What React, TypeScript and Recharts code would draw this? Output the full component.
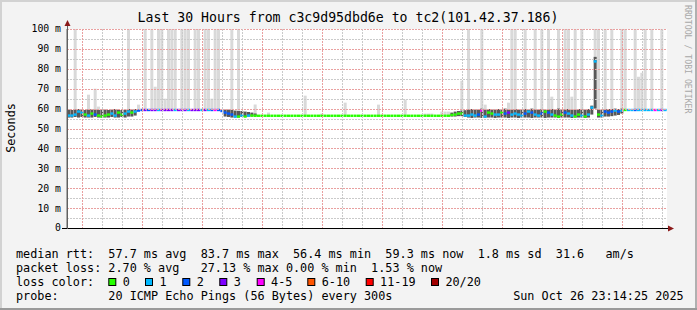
import React from 'react';
import { ComposedChart, Bar, Cell, XAxis, YAxis } from 'recharts';

const MONO = '"DejaVu Sans Mono", monospace';

// 10-minute bins from Sat 17:14:25 to Sun 23:14:25 (180 bins)
const median = [
  56.5, 56.5, 57, 58.5, 58, 57, 56.5, 57.5, 57, 56.5,
  56, 56.5, 57, 57.5, 56.5, 58, 57, 57.5, 58.5, 58,
  58.5, 59, 59.3, 59.3, 59.3, 59.3, 59.3, 59.3, 59.3, 59.3,
  59.3, 59.3, 59.3, 59.3, 59.3, 59.3, 59.3, 59.3, 59.3, 59.3,
  59.3, 59.3, 59.3, 59.3, 59.3, 59.3, 58.8, 58, 57.5, 57,
  56, 56, 56.5, 56, 56.5, 56.5, 56.4, 56.4, 56.4, 56.4,
  56.4, 56.4, 56.4, 56.4, 56.4, 56.4, 56.4, 56.4, 56.4, 56.4,
  56.4, 56.4, 56.4, 56.4, 56.4, 56.4, 56.4, 56.4, 56.4, 56.4,
  56.4, 56.4, 56.4, 56.4, 56.4, 56.4, 56.4, 56.4, 56.4, 56.4,
  56.4, 56.4, 56.4, 56.4, 56.4, 56.4, 56.4, 56.4, 56.4, 56.4,
  56.4, 56.4, 56.4, 56.4, 56.4, 56.4, 56.4, 56.4, 56.4, 56.4,
  56.4, 56.4, 56.4, 56.4, 56.4, 56.8, 57, 57.5, 57.5, 56.5,
  56.5, 57, 56.5, 57, 59, 56, 58, 57.5, 57, 57,
  58, 57.5, 58, 57, 57.5, 57, 56.5, 57.5, 58.5, 58,
  57, 56.5, 57.5, 58.5, 58, 57, 56.5, 56, 57, 58,
  57.5, 56.5, 56, 57, 56.5, 56, 57, 60.5, 83.7, 57,
  56.5, 58.5, 58, 58.5, 59, 58.5, 59, 59.3, 59.3, 59.3,
  59.3, 59.3, 59.3, 59.3, 59.3, 59.3, 59.3, 59.3, 59.3, 59.3,
];

// loss colour index per bin (0 = 0 lost, 1 = 1, 2 = 2, 3 = 3, 4 = 4-5 ...)
const loss = [
  1, 1, 1, 1, 1, 0, 1, 0, 2, 0,
  0, 0, 0, 1, 1, 0, 0, 1, 1, 0,
  1, 2, 2, 3, 2, 3, 3, 1, 3, 3,
  3, 3, 1, 3, 3, 3, 1, 3, 3, 3,
  1, 3, 1, 2, 4, 2, 2, 2, 2, 2,
  1, 0, 1, 0, 1, 0, 0, 0, 0, 0,
  0, 0, 0, 0, 0, 0, 0, 0, 0, 0,
  0, 0, 0, 0, 0, 0, 0, 0, 0, 0,
  0, 0, 0, 0, 0, 0, 0, 0, 0, 0,
  0, 0, 0, 0, 0, 0, 0, 0, 0, 0,
  0, 0, 0, 0, 0, 0, 0, 0, 0, 0,
  0, 0, 0, 0, 0, 0, 0, 0, 0, 1,
  1, 1, 1, 2, 4, 1, 0, 0, 1, 1,
  0, 2, 3, 1, 1, 1, 1, 2, 1, 2,
  1, 1, 2, 0, 2, 1, 0, 0, 0, 2,
  1, 1, 0, 0, 1, 0, 1, 1, 1, 0,
  1, 2, 2, 2, 1, 2, 1, 0, 1, 1,
  2, 1, 1, 1, 1, 1, 4, 1, 3, 1,
];

// dark smoke band (bulk of the 20 pings), null = none
const smokeLo = [
  55.5, 55.5, 55.8, 55.5, 55.8, 55.5, 55.5, 55.5, 55.8, 55.5,
  55.5, 55.5, 55.5, 55.8, 55.5, 55.5, 55.8, 55.5, 56, 56,
  56.5, null, null, null, null, null, null, null, null, null,
  null, null, null, null, null, null, null, null, null, null,
  null, null, null, null, null, null, null, 56, 55.8, 55.5,
  55.5, 55.5, 55.8, 55.8, 56, 56, 56.2, null, null, null,
  null, null, null, null, null, null, null, null, null, null,
  null, null, null, null, null, null, null, null, null, null,
  null, null, null, null, null, null, null, null, null, null,
  null, null, null, null, null, null, null, null, null, null,
  null, null, null, null, null, null, null, null, null, null,
  null, null, null, null, null, 56, 56, 56.2, 56.2, 55.8,
  55.5, 55.3, 55.5, 55.5, 55.3, 55.5, 55.5, 55.5, 55.3, 55.5,
  55.5, 55.5, 55.3, 55.5, 55.5, 55.3, 55.5, 55.5, 55.5, 55.3,
  55.5, 55.5, 55.5, 55.3, 55.5, 55.5, 55.5, 55.3, 55.5, 55.5,
  55.5, 55.3, 55.5, 55.5, 55.5, 55.3, 55.5, 57, 60, 55.5,
  55.5, 56, 56, 56.2, 56.5, 56.8, 57.5, null, null, null,
  null, null, null, null, null, null, null, null, null, null,
];
const smokeHi = [
  59.5, 59.3, 59.5, 59.8, 59.5, 59.3, 59.5, 59.8, 59.5, 59.3,
  59.5, 59.5, 59.3, 59.5, 59.8, 59.5, 59.3, 59.5, 59.8, 59.5,
  59.8, null, null, null, null, null, null, null, null, null,
  null, null, null, null, null, null, null, null, null, null,
  null, null, null, null, null, null, null, 59.5, 59.5, 59.3,
  59, 58.8, 58.8, 58.5, 58.3, 58, 57.5, null, null, null,
  null, null, null, null, null, null, null, null, null, null,
  null, null, null, null, null, null, null, null, null, null,
  null, null, null, null, null, null, null, null, null, null,
  null, null, null, null, null, null, null, null, null, null,
  null, null, null, null, null, null, null, null, null, null,
  null, null, null, null, null, 58, 58.5, 58.8, 59, 59.2,
  59.5, 59.8, 59.5, 59.5, 60, 59.5, 59.8, 59.5, 59.5, 59.8,
  59.5, 60, 59.5, 59.5, 59.8, 59.5, 59.5, 59.8, 59.5, 60,
  59.5, 59.5, 59.8, 59.5, 59.5, 59.8, 59.5, 60, 59.5, 59.5,
  59.8, 59.5, 59.5, 59.8, 59.5, 59.5, 59.8, 61.5, 86, 59.5,
  59.5, 59.8, 59.8, 59.8, 60, 59.8, 60, null, null, null,
  null, null, null, null, null, null, null, null, null, null,
];

// top of the light outlier smoke per bin (0 = none, 100 = clipped at top)
const outlierTop = [
  0, 0, 100, 0, 0, 0, 67, 0, 70, 61,
  0, 0, 0, 0, 0, 0, 0, 0, 100, 0,
  0, 62, 0, 100, 0, 100, 71, 100, 100, 65,
  100, 100, 100, 0, 100, 100, 100, 0, 100, 100,
  0, 100, 100, 65, 100, 100, 0, 0, 0, 100,
  0, 100, 0, 0, 0, 0, 62, 0, 0, 0,
  58, 0, 0, 0, 0, 0, 0, 0, 0, 0,
  0, 66.5, 0, 0, 0, 0, 57.5, 0, 0, 0,
  0, 0, 0, 63, 0, 0, 0, 0, 0, 0,
  0, 0, 0, 62, 0, 0, 0, 0, 0, 0,
  0, 64.5, 0, 0, 0, 0, 0, 57.5, 57.5, 57.5,
  0, 0, 58.5, 58.5, 58.5, 0, 0, 0, 74, 0,
  100, 0, 0, 0, 100, 62, 0, 0, 0, 0,
  0, 0, 63, 100, 100, 0, 0, 100, 0, 0,
  100, 0, 100, 0, 100, 66, 0, 100, 0, 100,
  100, 66, 100, 0, 100, 0, 0, 0, 100, 100,
  0, 100, 0, 100, 0, 0, 100, 100, 0, 0,
  100, 76, 78, 100, 0, 100, 0, 0, 100, 0,
];

const lossColors = ['#26ff00', '#00b8ff', '#0059ff', '#7e00ff', '#ff00ff', '#ff5500', '#ff0000', '#a10000'];
const lossLabels = ['0', '1', '2', '3', '4-5', '6-10', '11-19', '20/20'];
const lossKeyX = [108.3, 145, 182.3, 219.3, 256.7, 307.3, 365.7, 431];

// minutes after Sat 17:14:25
const timeTicks = [45.6, 405.6, 765.6, 1125.6, 1485.6];
const timeLabels = ['Sat 18:00', 'Sun 00:00', 'Sun 06:00', 'Sun 12:00', 'Sun 18:00'];
const hourLines = [
  45.6, 105.6, 165.6, 225.6, 285.6, 345.6, 405.6, 465.6, 525.6, 585.6,
  645.6, 705.6, 765.6, 825.6, 885.6, 945.6, 1005.6, 1065.6, 1125.6, 1185.6,
  1245.6, 1305.6, 1365.6, 1425.6, 1485.6, 1545.6, 1605.6, 1665.6, 1725.6, 1785.6,
];
const yTicks = [0, 10, 20, 30, 40, 50, 60, 70, 80, 90, 100];
const yGrid = [5, 10, 15, 20, 25, 30, 35, 40, 45, 50, 55, 60, 65, 70, 75, 80, 85, 90, 95, 100];

const legendRows = [
  'median rtt:  57.7 ms avg  83.7 ms max  56.4 ms min  59.3 ms now  1.8 ms sd  31.6   am/s',
  'packet loss: 2.70 % avg   27.13 % max 0.00 % min  1.53 % now',
  'loss color:',
  'probe:       20 ICMP Echo Pings (56 Bytes) every 300s                 Sun Oct 26 23:14:25 2025',
];

const rows = median.map((m, i) => ({
  i,
  med: [m - 0.6, m + 0.6],
  smoke: smokeLo[i] == null ? null : [smokeLo[i], smokeHi[i]],
  tall: outlierTop[i] ? [m, outlierTop[i]] : null,
}));

// plot box (px) used only for the grid decoration
const PL = 67, PR = 667, PT = 29, PB = 228;
const gx = (m: number) => Math.round(PL + (m / 1800) * (PR - PL)) + 0.5;
const gy = (v: number) => Math.round(PB - (v / 100) * (PB - PT)) + 0.5;

const MINOR = '#cacaca';
const MAJOR = '#e9a0a0';

export default function App() {
  return (
    <div style={{ position: 'absolute', left: 0, top: 0, width: 697, height: 310, background: '#f3f3f3', overflow: 'hidden' }}>
      <div style={{ position: 'absolute', left: PL, top: PT, width: PR - PL, height: PB - PT, background: '#fff' }} />
      <ComposedChart
        width={697}
        height={310}
        data={rows}
        margin={{ top: 29, right: 30, bottom: 62, left: 0 }}
        barCategoryGap={0}
        barGap={0}
      >
        <XAxis
          xAxisId="time"
          type="number"
          domain={[0, 1800]}
          allowDataOverflow
          ticks={timeTicks}
          tickFormatter={(v: number) => timeLabels[timeTicks.indexOf(v)] ?? ''}
          height={20}
          tickLine={false}
          tickSize={5}
          tickMargin={2}
          axisLine={{ stroke: '#000' }}
          tick={{ fontFamily: MONO, fontSize: 9.8, fill: '#000' }}
        />
        <XAxis xAxisId="a" dataKey="i" hide />
        <XAxis xAxisId="b" dataKey="i" hide />
        <XAxis xAxisId="c" dataKey="i" hide />
        <YAxis
          domain={[0, 100]}
          allowDataOverflow
          ticks={yTicks}
          width={67}
          tickLine={false}
          tickSize={4}
          tickMargin={2}
          axisLine={{ stroke: '#606060' }}
          tickFormatter={(v: number) => (v === 0 ? '0' : `${v} m`)}
          tick={{ fontFamily: MONO, fontSize: 9.8, fill: '#000' }}
        />
        <Bar xAxisId="a" dataKey="tall" fill="#d9d9d9" isAnimationActive={false} />
        <Bar xAxisId="b" dataKey="smoke" fill="#585858" isAnimationActive={false} />
        <Bar xAxisId="c" dataKey="med" isAnimationActive={false}>
          {rows.map((r) => (
            <Cell key={r.i} fill={lossColors[loss[r.i]]} />
          ))}
        </Bar>
      </ComposedChart>
      <svg width={697} height={310} style={{ position: 'absolute', left: 0, top: 0, pointerEvents: 'none' }}>
        <g shapeRendering="crispEdges">
          {yGrid.map((v) => (
            <path
              key={'h' + v}
              d={`M${PL},${gy(v)}H${PR}`}
              stroke={v % 10 === 0 ? MAJOR : MINOR}
              strokeWidth={1}
              strokeDasharray="2 1"
              fill="none"
            />
          ))}
          {hourLines.map((m, k) => (
            <path
              key={'v' + k}
              d={`M${gx(m)},${PT}V${PB}`}
              stroke={k % 3 === 0 ? MAJOR : MINOR}
              strokeWidth={1}
              strokeDasharray="2 1"
              fill="none"
            />
          ))}
        </g>
        <rect x={0} y={0} width={697} height={2} fill="#d2d2d2" />
        <rect x={0} y={0} width={2} height={310} fill="#d2d2d2" />
        <rect x={695} y={0} width={2} height={310} fill="#b0b0b0" />
        <rect x={0} y={308} width={697} height={2} fill="#9a9a9a" />
        <line x1={62} y1={228.5} x2={668} y2={228.5} stroke="#000" />
        <line x1={67.5} y1={24} x2={67.5} y2={229} stroke="#606060" />
        <polygon points="64.5,26 70.5,26 67.5,20" fill="#8b1a1a" />
        <polygon points="668,225.5 668,231.5 674,228.5" fill="#8b1a1a" />
        <text x={348} y={22} textAnchor="middle" fontFamily={MONO} fontSize={13.2} fill="#000">
          Last 30 Hours from c3c9d95dbd6e to tc2(101.42.37.186)
        </text>
        <text transform="translate(15,128) rotate(-90)" textAnchor="middle" fontFamily={MONO} fontSize={11.8} fill="#000">
          Seconds
        </text>
        <text transform="translate(684.5,5) rotate(90)" fontFamily={MONO} fontSize={8.2} fill="#a8a8a8">
          RRDTOOL / TOBI OETIKER
        </text>
        {legendRows.map((s, k) => (
          <text
            key={k}
            x={16}
            y={258 + k * 14}
            fontFamily={MONO}
            fontSize={11.8}
            fill="#000"
            xmlSpace="preserve"
            style={{ whiteSpace: 'pre' }}
          >
            {s}
          </text>
        ))}
        {lossLabels.map((lab, k) => (
          <g key={lab}>
            <rect x={lossKeyX[k] + 0.5} y={278.5} width={7} height={7} fill={lossColors[k]} stroke="#000" />
            <text x={lossKeyX[k] + 14.4} y={286} fontFamily={MONO} fontSize={11.8} fill="#000">
              {lab}
            </text>
          </g>
        ))}
      </svg>
    </div>
  );
}
